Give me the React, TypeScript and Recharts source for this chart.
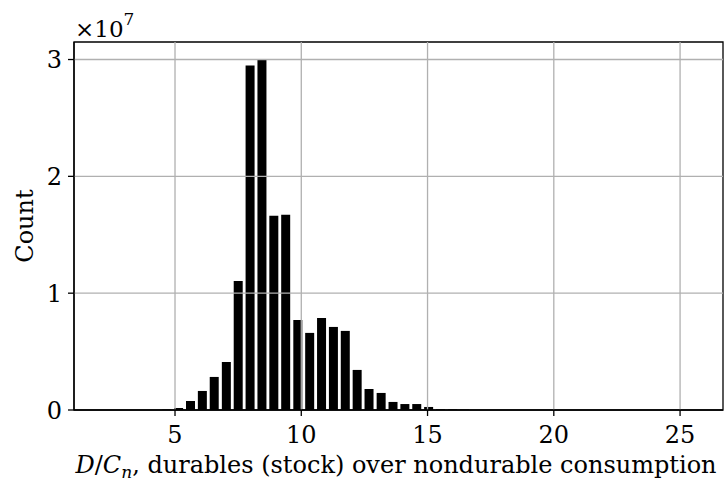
import React from 'react';
import { ComposedChart, Bar, XAxis, YAxis, ReferenceLine, ReferenceArea } from 'recharts';

const binCenters = [4.69, 5.16, 5.63, 6.10, 6.57, 7.05, 7.52, 7.99, 8.46, 8.93, 9.40, 9.88, 10.35, 10.82, 11.29, 11.76, 12.23, 12.70, 13.18, 13.65, 14.12, 14.59, 15.06, 15.53, 16.01, 16.48];
const counts = [40000, 170000, 770000, 1630000, 2830000, 4110000, 11050000, 29480000, 30000000, 16620000, 16710000, 7710000, 6600000, 7880000, 7110000, 6770000, 3430000, 1800000, 1460000, 690000, 510000, 510000, 260000, 60000, 50000, 40000];
const xTicks = [5, 10, 15, 20, 25];
const yTicks = [0, 10000000, 20000000, 30000000];
const xDomain = [1, 26.7];
const yDomain = [0, 31500000];

const data = binCenters.map((x, i) => ({ x, count: counts[i] }));

const FONT = 'DejaVu Serif';
const GRID = '#b0b0b0';

const Labels = () => (
  <g fontFamily={FONT} fill="#000">
    <text x={33} y={226} fontSize={24} textAnchor="middle" transform="rotate(-90 33 226)">Count</text>
    <text x={75} y={37} fontSize={23}>
      <tspan>×10</tspan>
      <tspan dy={-12} fontSize={17}>7</tspan>
    </text>
    <text x={396} y={473} fontSize={24} textAnchor="middle">
      <tspan fontStyle="italic">D</tspan>
      <tspan>/</tspan>
      <tspan fontStyle="italic">C</tspan>
      <tspan fontStyle="italic" fontSize={17} dy={5}>n</tspan>
      <tspan dy={-5}>, durables (stock) over nondurable consumption</tspan>
    </text>
  </g>
);

export default function App() {
  return (
    <div style={{ position: 'absolute', left: 0, top: 0, width: 728, height: 483, background: '#fff' }}>
      <ComposedChart width={728} height={483} data={data} margin={{ top: 42, right: 5, bottom: 0, left: 0 }}>
        <XAxis
          dataKey="x"
          type="number"
          domain={xDomain}
          ticks={xTicks}
          allowDataOverflow
          height={73}
          tickSize={6}
          tickMargin={10}
          axisLine={{ stroke: '#000', strokeWidth: 1.3 }}
          tickLine={{ stroke: '#000', strokeWidth: 1.3 }}
          tick={{ fill: '#000', fontSize: 24, fontFamily: FONT }}
          label={{ content: () => <Labels /> }}
        />
        <YAxis
          type="number"
          domain={yDomain}
          ticks={yTicks}
          allowDataOverflow
          width={74}
          tickSize={6}
          tickMargin={6}
          tickFormatter={(v: number) => String(v / 10000000)}
          axisLine={{ stroke: '#000', strokeWidth: 1.3 }}
          tickLine={{ stroke: '#000', strokeWidth: 1.3 }}
          tick={{ fill: '#000', fontSize: 24, fontFamily: FONT }}
        />
        <Bar dataKey="count" fill="#000" barSize={9} isAnimationActive={false} />
        {xTicks.map((t) => (
          <ReferenceLine key={'gx' + t} x={t} stroke={GRID} strokeWidth={1.3} />
        ))}
        {yTicks.filter((t) => t > 0).map((t) => (
          <ReferenceLine key={'gy' + t} y={t} stroke={GRID} strokeWidth={1.3} />
        ))}
        <ReferenceArea
          x1={xDomain[0]}
          x2={xDomain[1]}
          y1={yDomain[0]}
          y2={yDomain[1]}
          fill="none"
          fillOpacity={0}
          stroke="#000"
          strokeWidth={1.3}
          ifOverflow="visible"
        />
      </ComposedChart>
    </div>
  );
}
